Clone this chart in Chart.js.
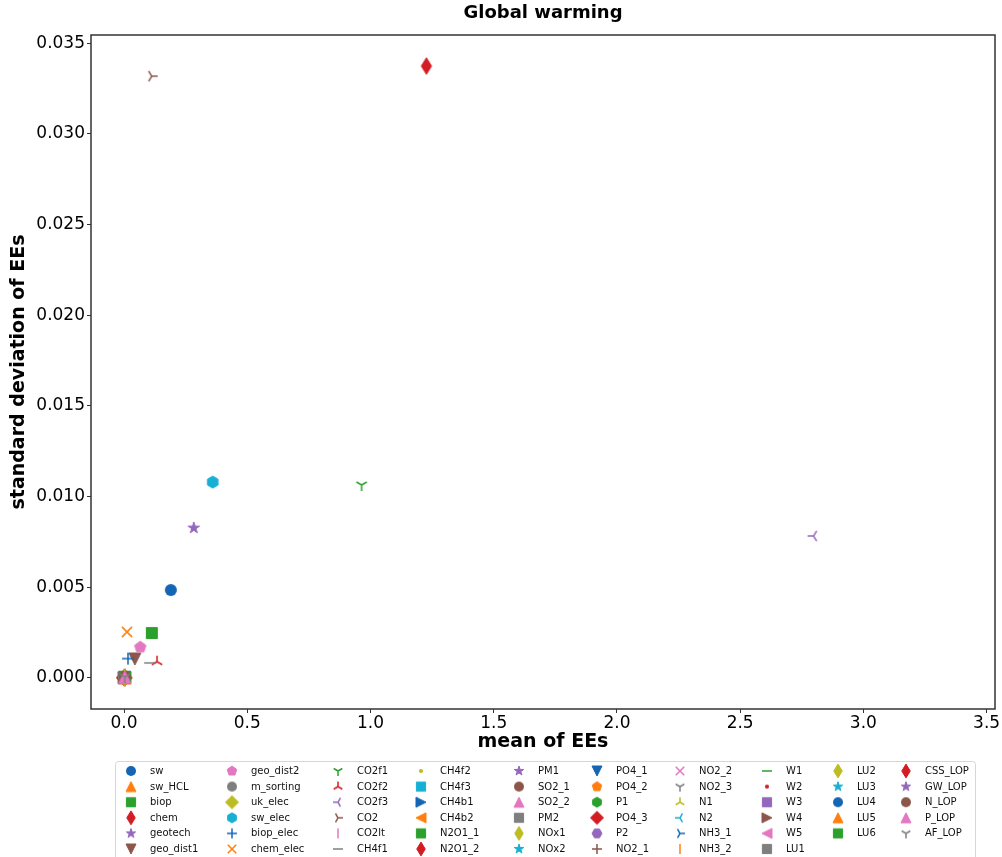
<!DOCTYPE html>
<html>
<head>
<meta charset="utf-8">
<script src="https://cdn.jsdelivr.net/npm/chart.js@4/dist/chart.umd.min.js"></script>
<style>
  html, body { margin: 0; padding: 0; background: #fff; }
  canvas { display: block; }
</style>
</head>
<body>
<canvas id="c" width="1002" height="857"></canvas>
<script>
// ---------------- DATA ----------------
const seriesNames = ['sw','sw_HCL','biop','chem','geotech','geo_dist1','geo_dist2','m_sorting','uk_elec','sw_elec',
  'biop_elec','chem_elec','CO2f1','CO2f2','CO2f3','CO2','CO2lt','CH4f1','CH4f2','CH4f3',
  'CH4b1','CH4b2','N2O1_1','N2O1_2','PM1','SO2_1','SO2_2','PM2','NOx1','NOx2',
  'PO4_1','PO4_2','P1','PO4_3','P2','NO2_1','NO2_2','NO2_3','N1','N2',
  'NH3_1','NH3_2','W1','W2','W3','W4','W5','LU1','LU2','LU3',
  'LU4','LU5','LU6','CSS_LOP','GW_LOP','N_LOP','P_LOP','AF_LOP'];

// mean of elementary effects (x)
const meanEEs = [0.190,0.003,0.113,0.002,0.001,0.044,0.066,0.002,0.001,0.360,
  0.016,0.012,0.964,0.134,2.798,0.112,0.001,0.106,0.003,0.002,
  0.001,0.002,0.004,0.003,0.001,0.002,0.003,0.001,0.002,0.001,
  0.002,0.001,0.002,0.001,0.002,0.003,0.002,0.001,0.002,0.001,
  0.002,0.003,0.002,0.004,0.002,0.003,0.002,0.003,0.002,0.003,
  0.004,0.003,0.004,1.227,0.283,0.004,0.003,0.003];

// standard deviation of elementary effects (y)
const stdEEs = [0.00485,0.00003,0.00248,0.00002,0.00001,0.00105,0.00170,0.00003,0.00002,0.01080,
  0.00107,0.00254,0.01064,0.00090,0.00783,0.03318,0.00001,0.00083,0.00004,0.00002,
  0.00001,0.00002,0.00004,0.00003,0.00001,0.00002,0.00003,0.00001,0.00002,0.00001,
  0.00002,0.00001,0.00002,0.00001,0.00002,0.00003,0.00002,0.00001,0.00002,0.00001,
  0.00002,0.00003,0.00002,0.00004,0.00002,0.00003,0.00002,0.00003,0.00002,0.00003,
  0.00004,0.00003,0.00005,0.03374,0.00827,0.00006,0.00005,0.00005];

const xTickValues = [0.0, 0.5, 1.0, 1.5, 2.0, 2.5, 3.0, 3.5];
const yTickValues = [0.000, 0.005, 0.010, 0.015, 0.020, 0.025, 0.030, 0.035];

const chartTitle = 'Global warming';
const xTitle = 'mean of EEs';
const yTitle = 'standard deviation of EEs';

// ---------------- STYLE ----------------
const markerStyles = ['o','^','s','d','*','v','p','o','D','h',
  '+','x','1','2','3','4','|','_','.','s',
  '>','<','s','d','*','o','^','s','d','*',
  'v','p','h','D','H','+','x','1','2','3',
  '4','|','_','.','s','>','<','s','d','*',
  'o','^','s','d','*','o','^','1'];
const palette = ['#1565b5','#ff7f0e','#2ca02c','#d41c24','#9467bd','#8c564b','#e377c2','#7f7f7f','#bcbd22','#17b0d4'];
const FONT = 'DejaVu Sans';
Chart.defaults.font.family = FONT;

function drawMarker(c, m, color, ms) {
  const r = ms / 2;
  c.fillStyle = color; c.strokeStyle = color;
  c.lineJoin = 'miter'; c.lineCap = 'butt';
  const poly = (pts) => {
    c.beginPath();
    pts.forEach(([x, y], i) => i ? c.lineTo(x, y) : c.moveTo(x, y));
    c.closePath(); c.lineWidth = 1; c.fill(); c.stroke();
  };
  const reg = (n, rad, rot) => Array.from({length: n}, (_, i) => {
    const a = rot + i * 2 * Math.PI / n; return [rad * Math.sin(a), -rad * Math.cos(a)];
  });
  const lines = (segs) => {
    c.lineWidth = 1.5; c.beginPath();
    segs.forEach(([x1, y1, x2, y2]) => { c.moveTo(x1, y1); c.lineTo(x2, y2); });
    c.stroke();
  };
  const s3 = Math.sqrt(3) / 2;
  switch (m) {
    case 'o': c.beginPath(); c.arc(0, 0, r, 0, 2 * Math.PI); c.fill(); break;
    case '.': c.beginPath(); c.arc(0, 0, r * 0.42, 0, 2 * Math.PI); c.fill(); break;
    case '^': poly([[0, -r], [-r, r], [r, r]]); break;
    case 'v': poly([[0, r], [-r, -r], [r, -r]]); break;
    case '<': poly([[-r, 0], [r, -r], [r, r]]); break;
    case '>': poly([[r, 0], [-r, -r], [-r, r]]); break;
    case 's': { const h = r * 0.92; poly([[-h, -h], [h, -h], [h, h], [-h, h]]); break; }
    case 'D': { const h = r * 1.3; poly([[0, -h], [h, 0], [0, h], [-h, 0]]); break; }
    case 'd': { const h = r * 1.38, w = r * 0.85; poly([[0, -h], [w, 0], [0, h], [-w, 0]]); break; }
    case '*': {
      const pts = [];
      for (let i = 0; i < 10; i++) {
        const rad = i % 2 ? r * 0.382 : r; const a = i * Math.PI / 5;
        pts.push([rad * Math.sin(a), -rad * Math.cos(a)]);
      }
      poly(pts); break;
    }
    case 'p': poly(reg(5, r, 0)); break;
    case 'h': poly(reg(6, r, 0)); break;
    case 'H': poly(reg(6, r, Math.PI / 6)); break;
    case '+': lines([[-r, 0, r, 0], [0, -r, 0, r]]); break;
    case 'x': { const h = r * 0.85; lines([[-h, -h, h, h], [-h, h, h, -h]]); break; }
    case '1': lines([[0, 0, 0, r], [0, 0, -s3 * r, -0.5 * r], [0, 0, s3 * r, -0.5 * r]]); break;
    case '2': lines([[0, 0, 0, -r], [0, 0, -s3 * r, 0.5 * r], [0, 0, s3 * r, 0.5 * r]]); break;
    case '3': lines([[0, 0, -r, 0], [0, 0, 0.5 * r, -s3 * r], [0, 0, 0.5 * r, s3 * r]]); break;
    case '4': lines([[0, 0, r, 0], [0, 0, -0.5 * r, -s3 * r], [0, 0, -0.5 * r, s3 * r]]); break;
    case '|': lines([[0, -r, 0, r]]); break;
    case '_': lines([[-r, 0, r, 0]]); break;
  }
}

function makeMarker(m, color, ms) {
  const size = Math.ceil(ms * 1.6) + 4;
  const cv = document.createElement('canvas');
  cv.width = size; cv.height = size;
  const c = cv.getContext('2d');
  c.translate(size / 2, size / 2);
  drawMarker(c, m, color, ms);
  return cv;
}

const plotMarkers = seriesNames.map((_, i) => makeMarker(markerStyles[i], palette[i % 10], 12));
const legendMarkers = seriesNames.map((_, i) => makeMarker(markerStyles[i], palette[i % 10], 10));

const datasets = seriesNames.map((name, i) => ({
  label: name,
  data: [{x: meanEEs[i], y: stdEEs[i]}],
  pointStyle: plotMarkers[i],
  pointRadius: 6,
  backgroundColor: palette[i % 10],
  borderColor: palette[i % 10],
  order: -i
}));

// ---------------- PLUGINS ----------------
const boxPlugin = {
  id: 'box',
  afterDraw(chart) {
    const {ctx, chartArea: a} = chart;
    ctx.save();
    ctx.strokeStyle = '#333'; ctx.lineWidth = 1.5;
    ctx.strokeRect(a.left, a.top, a.right - a.left, a.bottom - a.top);
    ctx.restore();
  }
};

const legendTextX = [150, 251, 357, 440, 538, 616, 699, 786, 857, 925];
const legendRow0 = 771, legendRowStep = 15.6;

const legendPlugin = {
  id: 'mplLegend',
  afterDraw(chart) {
    const ctx = chart.ctx;
    ctx.save();
    ctx.strokeStyle = '#d6d6d6'; ctx.lineWidth = 1;
    ctx.beginPath();
    ctx.roundRect(115.5, 761.5, 860, 110, 3);
    ctx.stroke();
    ctx.font = '10px "' + FONT + '"';
    ctx.fillStyle = '#111';
    ctx.textBaseline = 'middle'; ctx.textAlign = 'left';
    chart.data.datasets.forEach((ds, i) => {
      let col, row;
      if (i < 48) { col = Math.floor(i / 6); row = i % 6; }
      else { col = 8 + Math.floor((i - 48) / 5); row = (i - 48) % 5; }
      const y = legendRow0 + row * legendRowStep;
      const tx = legendTextX[col];
      const mk = legendMarkers[i];
      ctx.drawImage(mk, tx - 19 - mk.width / 2, y - mk.height / 2);
      ctx.fillText(ds.label, tx, y + 0.5);
    });
    ctx.restore();
  }
};

// ---------------- CHART ----------------
const tickFont = {family: FONT, size: 17, lineHeight: 1.0};
new Chart(document.getElementById('c'), {
  type: 'scatter',
  data: {datasets},
  options: {
    responsive: false,
    animation: false,
    events: [],
    layout: {padding: {left: 0, right: 5, top: 0, bottom: 98}},
    plugins: {
      legend: {display: false},
      tooltip: {enabled: false},
      title: {
        display: true, text: chartTitle, fullSize: false, color: '#000',
        font: {family: FONT, size: 18, weight: 'bold', lineHeight: 1.2},
        padding: {top: 3, bottom: 10.4}
      }
    },
    scales: {
      x: {
        type: 'linear', min: -0.134, max: 3.534, bounds: 'data',
        afterBuildTicks: (s) => { s.ticks = xTickValues.map(v => ({value: v})); },
        afterFit: (s) => { s.height = 50; s.paddingLeft = 0; s.paddingRight = 0; },
        ticks: {callback: (v) => Number(v).toFixed(1), font: tickFont, color: '#000', padding: 2, maxRotation: 0, autoSkip: false},
        grid: {display: true, drawOnChartArea: false, drawTicks: true, tickLength: 4, tickColor: '#333', tickWidth: 1},
        border: {display: false},
        title: {display: true, text: xTitle, color: '#000', font: {family: FONT, size: 19, weight: 'bold'}, padding: {top: 0, bottom: 6}}
      },
      y: {
        type: 'linear', min: -0.00171, max: 0.03545, bounds: 'data',
        afterBuildTicks: (s) => { s.ticks = yTickValues.map(v => ({value: v})); },
        afterFit: (s) => { s.width = 91; s.paddingTop = 0; s.paddingBottom = 0; },
        ticks: {callback: (v) => Number(v).toFixed(3), font: {family: FONT, size: 17}, color: '#000', padding: 2, autoSkip: false},
        grid: {display: true, drawOnChartArea: false, drawTicks: true, tickLength: 4, tickColor: '#333', tickWidth: 1},
        border: {display: false},
        title: {display: true, text: yTitle, color: '#000', font: {family: FONT, size: 19, weight: 'bold'}, padding: {top: 8, bottom: 0}}
      }
    }
  },
  plugins: [boxPlugin, legendPlugin]
});
</script>
</body>
</html>
